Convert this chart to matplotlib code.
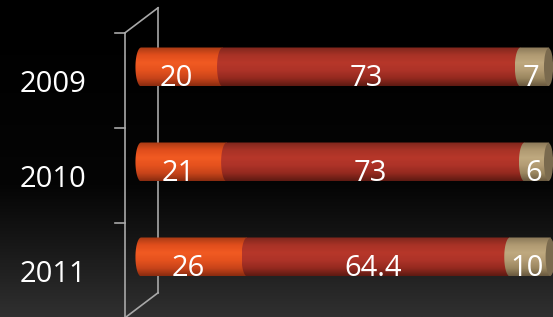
import numpy as np
import matplotlib.pyplot as plt
from matplotlib.path import Path
from matplotlib.patches import PathPatch, Ellipse
from matplotlib.colors import LinearSegmentedColormap

plt.rcParams['font.family'] = ['Open Sans', 'DejaVu Sans']

years = ['2009', '2010', '2011']
part1 = [20, 21, 26]
part2 = [73, 73, 64.4]
part3 = [7, 6, 10]
labels2 = ['73', '73', '64.4']

# vertical shading for each cylinder piece (top -> bottom)
shades = [
    ['#a83a14', '#e04e1c', '#f15a22', '#e5521e', '#c8441a', '#8a2c10'],
    ['#7e261c', '#a83226', '#b7372a', '#ad3328', '#94291f', '#5e1a12'],
    ['#8a7858', '#b09a72', '#bfa97f', '#b39c74', '#9a865f', '#6a5a40'],
]
cmaps = [LinearSegmentedColormap.from_list('c%d' % i, s) for i, s in enumerate(shades)]

fig = plt.figure(figsize=(5.53, 3.17), dpi=100)
ax = fig.add_axes([0, 0, 1, 1])
ax.axis('off')

# background gradient
bg = np.linspace(0, 1, 200).reshape(-1, 1) ** 1.3
bgmap = LinearSegmentedColormap.from_list('bg', ['#000000', '#050505', '#303030'])
ax.imshow(bg, extent=[0, 1, 0, 1], transform=ax.transAxes, aspect='auto',
          cmap=bgmap, origin='upper', zorder=0)

h = 0.41   # bar thickness
w = 1.4    # half width of end ellipses


def piece(left, right, yc, cmap, z):
    t = np.linspace(np.pi / 2, 3 * np.pi / 2, 40)
    xs = list(left + w + w * np.cos(t)) + [right + w, right + w]
    ys = list(yc - h / 2 * np.sin(t)) + [yc + h / 2, yc - h / 2]
    verts = list(zip(xs, ys)) + [(xs[0], ys[0])]
    patch = PathPatch(Path(verts, closed=True), facecolor='none', edgecolor='none',
                      transform=ax.transData)
    ax.add_patch(patch)
    grad = np.linspace(0, 1, 100).reshape(-1, 1)
    im = ax.imshow(grad, extent=(left, right + w + 0.01, yc + h / 2, yc - h / 2),
                   aspect='auto', cmap=cmap, origin='upper', zorder=z,
                   interpolation='bilinear')
    im.set_clip_path(patch)


# 3d axis frame
tick_y = np.arange(4) - 0.36
xf, xb = -2.55, 5.54
ax.plot([xb, xb], [tick_y[0] - 0.263, tick_y[-1] - 0.263], color='#a8a8a8', lw=1.2, zorder=1)
ax.plot([xf, xb], [tick_y[0], tick_y[0] - 0.263], color='#a8a8a8', lw=1.2, zorder=1)
ax.plot([xf, xb], [tick_y[-1], tick_y[-1] - 0.263], color='#a8a8a8', lw=1.2, zorder=1)
ax.plot([xf, xf], [tick_y[0], tick_y[-1] + 0.1], color='#a8a8a8', lw=1.2, zorder=1)
for ty in tick_y:
    ax.plot([-5.0, xf], [ty, ty], color='#a8a8a8', lw=1.2, zorder=1)

for i, yr in enumerate(years):
    a, b, c = part1[i], part2[i], part3[i]
    piece(0, a, i, cmaps[0], 3)
    piece(a, a + b, i, cmaps[1], 4)
    piece(a + b, a + b + c, i, cmaps[2], 5)
    ax.add_patch(Ellipse((a + b + c + w * 0.9, i), 2 * w * 0.8, h * 0.97,
                         facecolor='#7a6a4e', edgecolor='none', zorder=6))

    ty = i + 0.12
    ax.text(a / 2, ty, str(a), color='white', fontsize=21, ha='center', va='center', zorder=8)
    ax.text(a + b / 2, ty, labels2[i], color='white', fontsize=21, ha='center', va='center', zorder=8)
    ax.text(a + b + c / 2 + 0.5, ty, str(c), color='white', fontsize=21, ha='center', va='center', zorder=8)
    ax.text(-20.2, i + 0.18, yr, color='white', fontsize=21, ha='center', va='center', zorder=8)

ax.set_xlim(-33.2, 102.35)
ax.set_ylim(2.632, -0.705)

plt.savefig('out.png', dpi=100, facecolor='black')
